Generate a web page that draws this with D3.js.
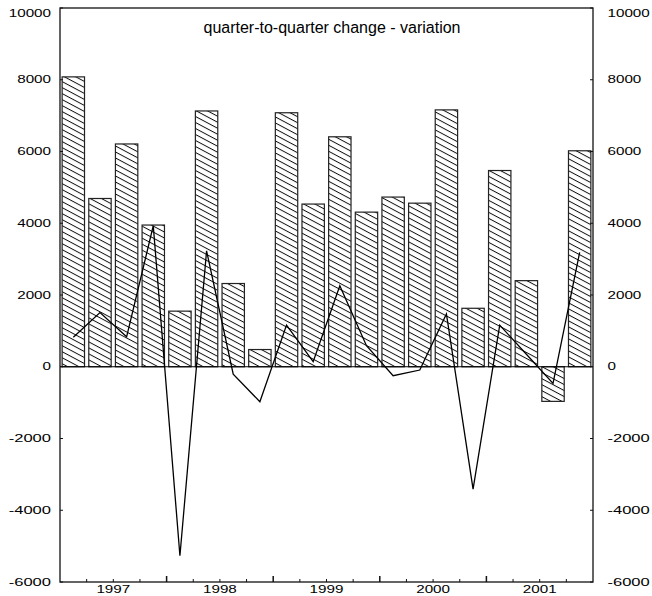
<!DOCTYPE html>
<html>
<head>
<meta charset="utf-8">
<script src="https://cdn.jsdelivr.net/npm/d3@7"></script>
<style>
  html, body { margin: 0; padding: 0; background: #fff; }
  svg { display: block; }
  text { font-family: "Liberation Sans", Arial, Helvetica, sans-serif; fill: #000; }
</style>
</head>
<body>
<svg id="chart" width="652" height="596"></svg>
<script>
// ---- data ----
const quarters = ["1997Q1","1997Q2","1997Q3","1997Q4","1998Q1","1998Q2","1998Q3","1998Q4",
                  "1999Q1","1999Q2","1999Q3","1999Q4","2000Q1","2000Q2","2000Q3","2000Q4",
                  "2001Q1","2001Q2","2001Q3","2001Q4"];
const years = ["1997","1998","1999","2000","2001"];
const barValues = [8080, 4690, 6210, 3950, 1550, 7130, 2320, 480, 7080, 4535,
                   6410, 4310, 4730, 4560, 7160, 1630, 5470, 2400, -965, 6020];
const lineValues = [820, 1510, 835, 3930, -5270, 3230, -205, -975, 1160, 140,
                    2260, 585, -250, -92, 1470, -3410, 1160, 350, -465, 3190];
const yTicks = [-6000, -4000, -2000, 0, 2000, 4000, 6000, 8000, 10000];
const titleText = "quarter-to-quarter change - variation";

// ---- layout ----
const L = 60, R = 593, T = 8, B = 582;
const svg = d3.select("#chart");

const x = d3.scaleBand().domain(quarters).range([L, R]).paddingInner(0.16).paddingOuter(0.08);
const y = d3.scaleLinear().domain([-6000, 10000]).range([B, T]);

// hatch pattern
const defs = svg.append("defs");
const pat = defs.append("pattern")
  .attr("id", "hatch")
  .attr("patternUnits", "userSpaceOnUse")
  .attr("width", 10).attr("height", 5.3)
  .attr("patternTransform", "rotate(28)");
pat.append("rect").attr("width", 10).attr("height", 5.3).attr("fill", "#fff");
pat.append("line").attr("x1", 0).attr("x2", 10).attr("y1", 0.5).attr("y2", 0.5)
  .attr("stroke", "#000").attr("stroke-width", 0.9);

// bars
svg.append("g").selectAll("rect").data(quarters).join("rect")
  .attr("x", (d) => x(d))
  .attr("width", x.bandwidth())
  .attr("y", (d, i) => y(Math.max(0, barValues[i])))
  .attr("height", (d, i) => Math.abs(y(barValues[i]) - y(0)))
  .attr("fill", "url(#hatch)")
  .attr("stroke", "#222")
  .attr("stroke-width", 1.2);

// zero line
svg.append("line").attr("x1", L).attr("x2", R).attr("y1", y(0)).attr("y2", y(0))
  .attr("stroke", "#000").attr("stroke-width", 1.2);

// line series
const line = d3.line()
  .x((d, i) => x(quarters[i]) + x.bandwidth() / 2)
  .y((d) => y(d));
svg.append("path").datum(lineValues)
  .attr("d", line)
  .attr("fill", "none")
  .attr("stroke", "#000")
  .attr("stroke-width", 1.3)
  .attr("stroke-linejoin", "miter");

// frame
svg.append("rect").attr("x", L).attr("y", T).attr("width", R - L).attr("height", B - T)
  .attr("fill", "none").attr("stroke", "#111").attr("stroke-width", 1.3);

// y axis inside ticks
const tickG = svg.append("g").attr("stroke", "#111").attr("stroke-width", 1);
yTicks.forEach((v) => {
  tickG.append("line").attr("x1", L).attr("x2", L + 3).attr("y1", y(v)).attr("y2", y(v));
  tickG.append("line").attr("x1", R - 3).attr("x2", R).attr("y1", y(v)).attr("y2", y(v));
});

// x axis inside ticks at quarter boundaries
const step = x.step();
quarters.forEach((q, i) => {
  if (i === 0) return;
  const xx = x(q) - step * x.paddingInner() / 2;
  const big = (i % 4 === 0);
  tickG.append("line").attr("x1", xx).attr("x2", xx)
    .attr("y1", B).attr("y2", B - (big ? 6 : 3))
    .attr("stroke-width", big ? 1.5 : 1);
});

// tick labels (wide digits)
const digitW = 8.45;
function wideText(g, txt, xx, yy, anchor) {
  g.append("text")
    .attr("x", xx).attr("y", yy)
    .attr("text-anchor", anchor)
    .attr("font-size", 10)
    .attr("textLength", txt.length * digitW)
    .attr("lengthAdjust", "spacingAndGlyphs")
    .text(txt);
}
const labG = svg.append("g");
yTicks.forEach((v) => {
  const yy = Math.max(y(v), 13) + 3.7;
  wideText(labG, String(v), 51, yy, "end");
  wideText(labG, String(v), 607.5, yy, "start");
});
years.forEach((yr, k) => {
  const xx = x(quarters[k * 4]) - step * x.paddingInner() / 2 + step * 2;
  wideText(labG, yr, xx, 592.7, "middle");
});

// title
svg.append("text")
  .attr("x", 332).attr("y", 32.5)
  .attr("text-anchor", "middle")
  .attr("font-size", 16)
  .text(titleText);
</script>
</body>
</html>
